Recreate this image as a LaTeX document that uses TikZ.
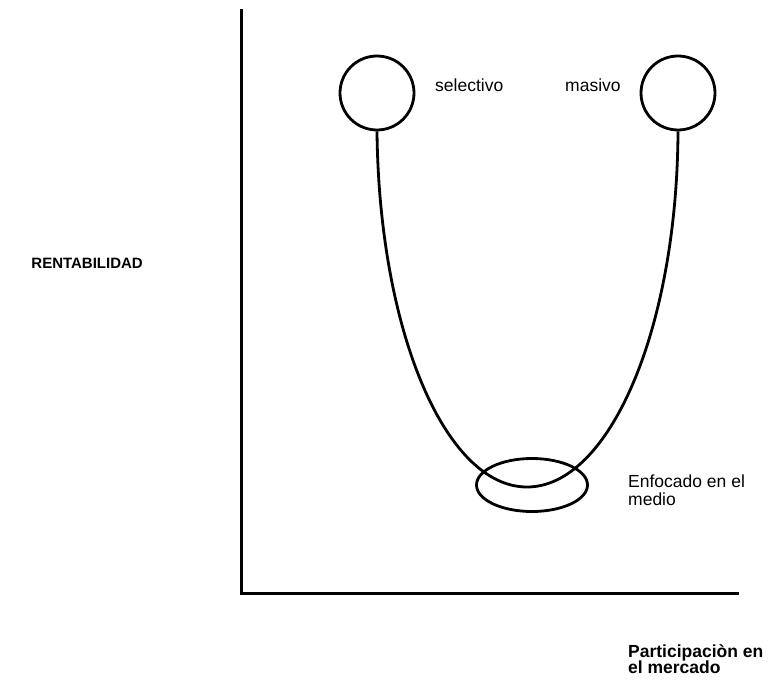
\documentclass[tikz,border=0pt]{standalone}
\usepackage{fontspec}
\setmainfont{Liberation Sans}
\usetikzlibrary{shapes.geometric}
\begin{document}
\begin{tikzpicture}[x=1pt,y=-1pt,
  line/.style={line width=2.8pt},
  lbl/.style={font=\fontsize{17.5}{18}\selectfont,inner sep=0pt,anchor=base west},
  blbl/.style={lbl,font=\fontsize{17.5}{16.5}\selectfont\bfseries}]
\useasboundingbox (0,0) rectangle (770,687);
% axes
\coordinate (top) at (241,9);
\coordinate (origin) at (241,593);
\coordinate (right) at (739,593);
\draw[line,line width=3pt] (top) -- (origin) -- (right);
% strategy positions
\node[draw,line,circle,minimum size=74pt,inner sep=0pt] (sel) at (377,93) {};
\node[draw,line,circle,minimum size=74pt,inner sep=0pt] (mas) at (678,93) {};
\node[draw,line,ellipse,minimum width=111pt,minimum height=53pt,inner sep=0pt] (mid) at (532,485) {};
\coordinate (low) at (527,487);
% U-shaped curve joining the two extremes through the middle
\draw[line] (sel.south) .. controls (379,330) and (445,487) .. (low)
  .. controls (609,487) and (677,330) .. (mas.south);
% labels
\node[lbl] (tsel) at (435,92) {selectivo};
\node[lbl] (tmas) at (565,92) {masivo};
\node[blbl,font=\fontsize{15}{17}\selectfont\bfseries,anchor=base east] (rent) at (143,268) {RENTABILIDAD};
\node[lbl] (tmid1) at (628,487) {Enfocado en el};
\node[lbl] (tmid2) at (628,505) {medio};
\node[blbl] (part1) at (628,657) {Participaciòn en};
\node[blbl] (part2) at (628,673) {el mercado};
\end{tikzpicture}
\end{document}
